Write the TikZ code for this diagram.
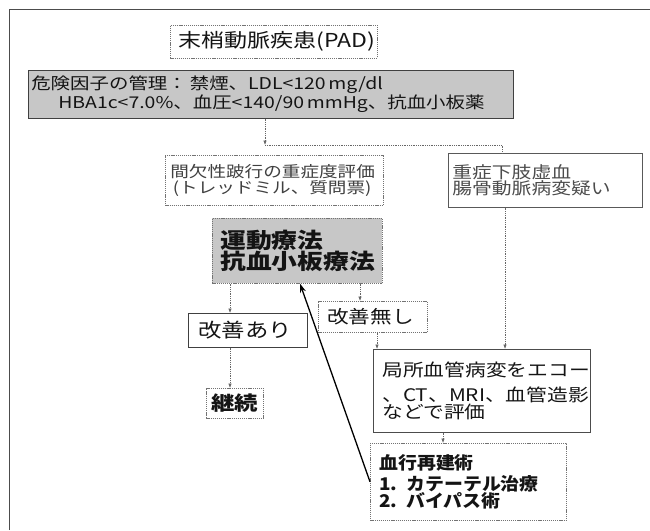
\documentclass[tikz,border=0pt]{standalone}
\usepackage{fontspec}
\setmainfont{Noto Sans CJK JP}[FakeStretch=1.2]
\newfontfamily\jpnarrow{Noto Sans CJK JP}[FakeStretch=1.08]
\usetikzlibrary{arrows.meta}
\definecolor{boxfill}{gray}{0.78}
\definecolor{ink}{gray}{0.08}
\begin{document}
\begin{tikzpicture}[x=1pt,y=-1pt,
  bx/.style={anchor=north west, inner ysep=0pt, align=left, text=ink},
  solidb/.style={bx, draw=black!75, line width=0.6pt},
  dotb/.style={bx, draw=black!55, line width=0.6pt, dash pattern=on 1.2pt off 0.9pt},
  conn/.style={draw=black!60, line width=0.6pt, dash pattern=on 1pt off 0.8pt, -{Latex[length=4.5pt,width=3.5pt]}},
  plainln/.style={draw=black!60, line width=0.6pt, dash pattern=on 1pt off 0.8pt},
  back/.style={draw=black, line width=1.3pt, -{Stealth[length=9pt,width=6pt]}}]
\useasboundingbox (0,0) rectangle (650,530);
\fill[white] (0,0) rectangle (650,530);
\draw[black!70, line width=0.8pt] (9,530) -- (9,9) -- (650,9);

\node[dotb, inner xsep=8pt, text width=191pt, minimum height=33pt] (title) at (170,25)
  {\fontsize{19.2}{22}\selectfont 末梢動脈疾患(PAD)};
\node[solidb, fill=boxfill, inner xsep=3pt, text width=479pt, minimum height=48pt] (risk) at (28,70)
  {\fontsize{16.2}{20}\selectfont 危険因子の管理：\hspace{3pt}禁煙、LDL<120\,mg/dl\\
   \hspace*{27pt}HBA1c<7.0\%、血圧<140/90\,mmHg、抗血小板薬};
\node[dotb, inner xsep=5pt, text width=208pt, minimum height=50pt, text=black!75] (eval) at (165,155)
  {\fontsize{15.5}{19}\selectfont 間欠性跛行の重症度評価\\\,(トレッドミル、質問票)};
\node[solidb, draw=black!65, inner xsep=4pt, text width=186pt, minimum height=54pt, text=black!70] (rt) at (448,153)
  {\fontsize{16.5}{23}\selectfont 重症下肢虚血\\腸骨動脈病変疑い};
\node[dotb, fill=boxfill, inner xsep=8pt, text width=154pt, minimum height=65pt] (ex) at (212,218)
  {\fontsize{21.5}{26}\selectfont\bfseries 運動療法\\抗血小板療法};
\node[solidb, inner xsep=10pt, text width=99pt, minimum height=34pt] (okA) at (188,313)
  {\fontsize{19.5}{22}\selectfont 改善あり};
\node[dotb, inner xsep=9pt, text width=91pt, minimum height=31pt] (okN) at (318,301)
  {\fontsize{18}{22}\selectfont 改善無し};
\node[dotb, inner xsep=5pt, text width=47pt, minimum height=30pt, align=center] (cont) at (206,388)
  {\fontsize{19.5}{22}\selectfont\bfseries 継続};
\node[solidb, draw=black!70, inner xsep=9pt, text width=199pt, minimum height=83pt] (loc) at (373,349)
  {\fontsize{17.3}{25}\selectfont 局所血管病変をエコー\\、CT、MRI、血管造影\\などで評価};
\node[dotb, inner xsep=9pt, text width=178pt, minimum height=77pt] (rev) at (370,443)
  {\jpnarrow\fontsize{17.5}{21}\selectfont\bfseries 血行再建術\\\mbox{1.\hspace*{9pt}カテーテル治療}\\\mbox{2.\hspace*{9pt}バイパス術}};

\coordinate (j) at (265,145);
\coordinate (jr) at (502,145);
\coordinate (v) at (505,0);
\coordinate (a1) at (230,0);
\coordinate (a2) at (360,0);
\coordinate (a3) at (377,0);
\coordinate (a4) at (443,0);
\coordinate (a5) at (300,0);

\draw[conn] (risk.south -| j) -- (j);
\draw[plainln] (j) -- (jr) -- (rt.north -| jr);
\draw[conn] (rt.south -| v) -- (loc.north -| v);
\draw[conn] (ex.south -| a1) -- (okA.north -| a1);
\draw[conn] (okA.south -| a1) -- (cont.north -| a1);
\draw[conn] (ex.south -| a2) -- (okN.north -| a2);
\draw[conn] (okN.south -| a3) -- (loc.north -| a3);
\draw[conn] (loc.south -| a4) -- (rev.north -| a4);
\draw[back] (rev.west) -- (ex.south -| a5);
\end{tikzpicture}
\end{document}
